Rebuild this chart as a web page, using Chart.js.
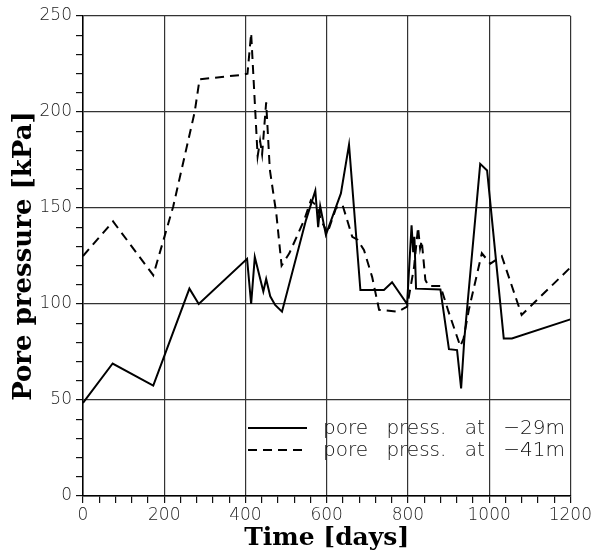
<!DOCTYPE html>
<html>
<head>
<meta charset="utf-8">
<script src="https://cdn.jsdelivr.net/npm/chart.js@4/dist/chart.umd.min.js"></script>
<style>
  html, body { margin: 0; padding: 0; background: #fff; }
  #wrap { width: 594px; height: 553px; position: relative; }
</style>
</head>
<body>
<div id="wrap"><canvas id="c" width="594" height="553"></canvas></div>
<script>
// Pore pressure records at two depths, time in days, pressure in kPa
const days29 = [0, 73, 173, 262, 285, 404, 414, 423, 444, 451, 461, 473, 490, 549, 572, 579, 584, 598, 635, 655, 683, 741, 761, 798, 809, 813, 816, 820, 880, 901, 921, 931, 939, 978, 995, 1036, 1056, 1200];
const kpa29  = [48.5, 69, 57.5, 108, 100, 123.5, 100, 124.5, 106.5, 113, 104, 99.5, 96, 143.7, 159, 140, 151, 136, 157.6, 183, 107.3, 107.3, 111.3, 100, 141, 127, 135, 108, 107.6, 76.5, 76, 56, 82, 173, 169.5, 82, 82, 92];

const days41 = [0, 74, 173, 222, 275, 287, 393, 405, 414, 430, 436, 441, 451, 460, 476, 489, 508, 545, 561, 577, 586, 602, 623, 639, 663, 676, 692, 712, 729, 776, 798, 815, 825, 830, 834, 843, 851, 880, 900, 929, 937, 950, 982, 1003, 1031, 1080, 1200];
const kpa41  = [125, 143, 115, 150.7, 200, 217, 219.4, 220, 241, 177, 185, 178, 205, 170, 147, 120, 126.4, 144, 154, 150.7, 143.7, 137, 150, 151.6, 135, 133.5, 128, 114, 97, 96, 98.6, 119, 140, 129, 133, 112.5, 109.4, 109.4, 96, 78, 82, 97, 126.4, 121, 125, 94.3, 119];

const seriesLabels = ['pore press. at \u221229m', 'pore press. at \u221241m'];

// Axis ticks
const xMajorStep = 200, xMinorStep = 40, xMax = 1200;
const yMajorStep = 50, yMinorStep = 10, yMax = 250;

const toPoints = (xs, ys) => xs.map((x, i) => ({ x: x, y: ys[i] }));

const tickFont = { family: 'DejaVu Sans', size: 17, weight: '300' };

// Legend drawn inside the plot area, lower right
const innerLegend = {
  id: 'innerLegend',
  afterDatasetsDraw(chart) {
    const { ctx, chartArea } = chart;
    const x0 = chartArea.left + 165, x1 = chartArea.left + 224, tx = chartArea.left + 240;
    const rows = [chartArea.top + 412, chartArea.top + 434];
    ctx.save();
    chart.data.datasets.forEach((ds, i) => {
      const y = rows[i];
      ctx.beginPath();
      ctx.lineWidth = ds.borderWidth;
      ctx.strokeStyle = ds.borderColor;
      ctx.setLineDash(ds.borderDash || []);
      ctx.moveTo(x0, y);
      ctx.lineTo(x1, y);
      ctx.stroke();
      ctx.setLineDash([]);
      ctx.fillStyle = '#111';
      ctx.font = '300 20px "DejaVu Sans"';
      if ('wordSpacing' in ctx) ctx.wordSpacing = '12px';
      ctx.textBaseline = 'middle';
      ctx.textAlign = 'left';
      ctx.fillText(ds.label, tx, y + 1);
    });
    ctx.restore();
  }
};

new Chart(document.getElementById('c'), {
  type: 'line',
  data: {
    datasets: [
      {
        label: seriesLabels[0],
        data: toPoints(days29, kpa29),
        borderColor: '#000',
        borderWidth: 2,
        pointRadius: 0,
        tension: 0,
        fill: false
      },
      {
        label: seriesLabels[1],
        data: toPoints(days41, kpa41),
        borderColor: '#000',
        borderWidth: 2,
        borderDash: [9, 6],
        pointRadius: 0,
        tension: 0,
        fill: false
      }
    ]
  },
  options: {
    responsive: false,
    animation: false,
    layout: { padding: { top: 16, right: 22, left: 0, bottom: 0 } },
    plugins: { legend: { display: false }, tooltip: { enabled: false } },
    scales: {
      x: {
        type: 'linear',
        min: 0, max: xMax,
        afterFit(s) { s.height = 57; },
        ticks: {
          stepSize: xMinorStep,
          autoSkip: false,
          maxRotation: 0,
          color: '#222',
          font: tickFont,
          padding: 2,
          callback: v => (v % xMajorStep === 0 ? String(v) : '')
        },
        grid: {
          color: c => (c.tick && c.tick.value % xMajorStep === 0 ? '#333' : 'rgba(0,0,0,0)'),
          lineWidth: 1.2,
          tickColor: '#111',
          tickLength: 7
        },
        border: { color: '#000', width: 1.5 },
        title: { display: true, text: 'Time [days]', font: { family: 'DejaVu Serif', size: 25, weight: 'bold' }, color: '#000', padding: { top: 0, bottom: 0 } }
      },
      y: {
        type: 'linear',
        min: 0, max: yMax,
        afterFit(s) { s.width = 83; },
        ticks: {
          stepSize: yMinorStep,
          autoSkip: false,
          color: '#222',
          font: tickFont,
          padding: 4,
          callback: v => (v % yMajorStep === 0 ? String(v) : '')
        },
        grid: {
          color: c => (c.tick && c.tick.value % yMajorStep === 0 ? '#333' : 'rgba(0,0,0,0)'),
          lineWidth: 1.2,
          tickColor: '#111',
          tickLength: 7
        },
        border: { color: '#000', width: 1.5 },
        title: { display: true, text: 'Pore pressure [kPa]', font: { family: 'DejaVu Serif', size: 26, weight: 'bold' }, color: '#000', padding: { top: 9, bottom: 0 } }
      }
    }
  },
  plugins: [innerLegend]
});
</script>
</body>
</html>
